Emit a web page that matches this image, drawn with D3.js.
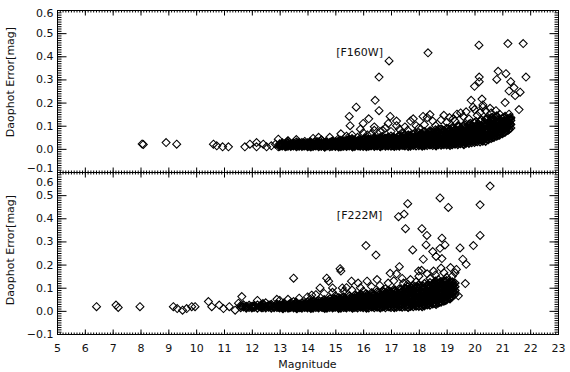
<!DOCTYPE html>
<html>
<head>
<meta charset="utf-8">
<script src="https://cdn.jsdelivr.net/npm/d3@7"></script>
<style>
  body { margin: 0; background: #fff; }
  svg { display: block; font-family: "DejaVu Sans", sans-serif; }
</style>
</head>
<body>
<svg id="chart" width="570" height="372"></svg>
<script>
// tick labels
var xTicks = [5, 6, 7, 8, 9, 10, 11, 12, 13, 14, 15, 16, 17, 18, 19, 20, 21, 22, 23];
var yTicks = [-0.1, 0.0, 0.1, 0.2, 0.3, 0.4, 0.5, 0.6];

// F160W: isolated stars [magnitude, error]
var f160Sparse = [
  [8.06, 0.021], [8.10, 0.019], [8.92, 0.027], [9.30, 0.020], [10.62, 0.020], [10.74, 0.013],
  [10.95, 0.009], [11.16, 0.009], [11.75, 0.009], [11.93, 0.020], [12.17, 0.027], [12.17, 0.009],
  [12.41, 0.020], [12.53, 0.009], [12.70, 0.013], [12.85, 0.020], [12.95, 0.009], [12.95, 0.042],
  [20.16, 0.448], [21.20, 0.455], [21.75, 0.455], [18.33, 0.415], [16.93, 0.380], [16.57, 0.310],
  [21.85, 0.310], [20.17, 0.310], [20.17, 0.290], [20.00, 0.270], [20.85, 0.335], [20.80, 0.300],
  [21.13, 0.325], [21.30, 0.290], [21.42, 0.265], [21.24, 0.250], [21.64, 0.245], [21.46, 0.230],
  [16.43, 0.210], [15.75, 0.180], [16.57, 0.165], [15.50, 0.140], [15.53, 0.100], [16.00, 0.110],
  [16.20, 0.130], [16.97, 0.140], [17.20, 0.120], [16.40, 0.095], [16.70, 0.080], [17.80, 0.130],
  [18.15, 0.140], [18.40, 0.148], [19.88, 0.210], [19.95, 0.180], [20.27, 0.215], [20.30, 0.180],
  [20.20, 0.157], [20.56, 0.175], [20.77, 0.165], [21.10, 0.200], [21.60, 0.170], [21.24, 0.150],
  [21.30, 0.130], [21.28, 0.108], [20.80, 0.143], [19.37, 0.150], [19.23, 0.130], [14.80, 0.050],
  [15.80, 0.050]
];
// F160W: halo just above the dense band
var f160Halo = [
  [13.3, 0.035], [13.6, 0.040], [13.9, 0.032], [14.2, 0.045], [14.5, 0.038], [15.1, 0.042],
  [15.4, 0.055], [15.6, 0.060], [16.0, 0.070], [16.3, 0.065], [16.6, 0.075], [16.8, 0.090],
  [17.0, 0.075], [17.3, 0.085], [17.5, 0.095], [17.6, 0.080], [17.9, 0.100], [18.0, 0.090],
  [18.2, 0.105], [18.5, 0.120], [18.6, 0.100], [18.8, 0.125], [19.0, 0.115], [19.1, 0.135],
  [19.3, 0.120], [19.6, 0.140], [19.8, 0.130], [19.7, 0.160], [20.1, 0.145], [20.4, 0.165],
  [20.6, 0.155], [20.9, 0.150], [15.9, 0.085], [16.9, 0.110], [17.2, 0.100], [17.7, 0.120],
  [18.3, 0.135], [18.9, 0.145], [19.5, 0.155], [16.4, 0.080], [15.2, 0.065], [14.4, 0.050],
  [13.7, 0.028], [20.0, 0.170], [20.3, 0.190], [19.4, 0.100], [18.7, 0.085], [17.4, 0.070],
  [16.15, 0.060], [15.45, 0.048]
];
// F160W: dense band, "mag err err ..." with errors in 0.001 mag
var f160Dense = [
  "13.0 11 16 21", "13.1 13 19 26", "13.2 10 15 22", "13.3 12 17 24 33", "13.4 11 14 20",
  "13.5 13 18 25", "13.6 10 16 21 29", "13.7 12 15 23", "13.8 11 17 20 27", "13.9 13 16 24",
  "14.0 10 14 19 26", "14.1 12 17 22 31", "14.2 11 15 21 25", "14.3 13 18 24", "14.4 10 16 20 28",
  "14.5 12 14 22 27 38", "14.6 11 17 19 25", "14.7 13 15 23 30", "14.8 10 18 21 27", "14.9 12 16 24 33",
  "15.0 11 14 20 26 31", "15.1 13 17 23 29", "15.2 10 15 21 28 36", "15.3 12 18 25 32", "15.4 11 16 22 27 35",
  "15.5 13 19 24 31", "15.6 12 15 20 28 34 44", "15.7 11 17 23 30 38", "15.8 14 18 26 33", "15.9 12 16 21 29 37",
  "16.0 11 19 24 31 40", "16.1 13 17 22 28 35 46", "16.2 12 15 25 33 42", "16.3 14 20 27 36", "16.4 11 18 23 30 39 48",
  "16.5 13 16 26 34 44", "16.6 12 21 28 37 47", "16.7 14 17 24 31 41 52", "16.8 12 19 27 35 45", "16.9 13 16 22 30 38 49",
  "17.0 12 20 26 33 43 55", "17.1 14 18 24 31 40 50", "17.2 13 21 28 36 46", "17.3 12 17 25 34 42 58", "17.4 15 22 29 38 48 53",
  "17.5 13 19 27 35 44 61", "17.6 14 23 31 40 50", "17.7 12 18 26 34 45 57", "17.8 15 21 29 37 47 63", "17.9 13 24 32 41 52",
  "18.0 14 20 27 36 46 58 70", "18.1 16 23 31 40 50 64", "18.2 14 19 28 37 45 55 74", "18.3 15 25 33 43 53 67", "18.4 17 22 30 39 48 60 78",
  "18.5 15 26 35 44 56 69", "18.6 16 21 29 38 50 62 82", "18.7 18 27 36 47 57 72", "18.8 16 23 32 41 53 66 85", "18.9 19 28 37 49 61 76",
  "19.0 17 24 33 43 55 68 88", "19.1 20 29 39 51 63 79", "19.2 18 26 35 46 58 72 92", "19.3 21 31 42 54 66 83", "19.4 19 27 37 49 61 75 96",
  "19.5 23 33 44 56 69 87", "19.6 22 30 40 52 65 79 100", "19.7 25 35 47 59 73 91", "19.8 24 32 43 55 68 83 106", "19.9 27 38 50 63 77 96",
  "20.0 28 36 47 60 73 89 112", "20.1 31 42 54 67 82 101", "20.2 30 39 51 64 78 94 120", "20.3 34 45 58 72 87 107", "20.4 33 44 56 69 84 100 128",
  "20.5 40 52 65 79 95 114", "20.6 45 57 70 85 101 122 135", "20.7 50 62 76 92 108 127", "20.8 55 68 83 99 116 138", "20.9 60 74 90 106 124",
  "21.0 66 80 97 113 131", "21.1 72 88 104 120 140", "21.2 80 95 111 128", "21.3 90 105 122 136",
  // second pass of the band, stars between the columns above
  "13.05 14 20", "13.25 12 18 28", "13.45 15 21", "13.65 13 19 25", "13.85 14 22", "14.05 12 18 23",
  "14.25 15 20 29", "14.45 13 19 24", "14.65 14 21 28", "14.85 12 19 25 30", "15.05 15 22 28",
  "15.25 13 19 25 33", "15.45 14 20 29 38", "15.65 16 23 31", "15.85 13 21 27 35", "16.05 15 22 30 43",
  "16.25 14 20 29 38", "16.45 16 24 32 41", "16.65 15 22 30 40 50", "16.85 17 25 33 43", "17.05 15 23 31 39 49",
  "17.25 17 24 32 42 52", "17.45 16 25 34 43 56", "17.65 17 26 35 45 55", "17.85 18 26 34 44 54 66",
  "18.05 18 25 34 43 53 64", "18.25 19 27 36 46 57 70", "18.45 20 28 38 49 60 73", "18.65 21 31 41 52 65 78",
  "18.85 22 32 43 55 69 82", "19.05 23 34 46 58 72 86", "19.25 24 36 48 61 76 90", "19.45 26 38 50 64 80 98",
  "19.65 29 41 54 68 84 104", "19.85 32 45 59 73 90 110", "20.05 34 48 62 77 95 118", "20.25 38 52 66 82 100 125",
  "20.45 42 57 72 88 106 130", "20.65 50 64 80 96 114 136", "20.85 60 75 91 108 126", "21.05 70 86 102 118 135",
  "21.25 85 100 116 132",
  // third pass, the darkest part of the band
  "14.12 9 24", "14.37 17 30", "14.62 8 23", "14.87 16 28", "15.12 9 25 34", "15.37 18 30",
  "15.62 9 25 39", "15.87 19 31 42", "16.12 10 27 38", "16.37 20 33 45", "16.62 10 26 43", "16.87 21 36 47",
  "17.12 11 28 45", "17.37 22 38 50", "17.62 11 30 47 60", "17.87 23 40 50", "18.12 12 32 48 60",
  "18.37 24 41 56 72", "18.62 13 34 51 68", "18.87 26 45 60 78", "19.12 15 38 55 70 84", "19.37 30 48 65 80",
  "19.62 18 44 60 74 92", "19.87 36 52 70 86 100", "20.12 40 58 75 92 108", "20.37 46 64 80 96 115",
  "20.62 55 72 90 108 125", "20.87 68 84 100 118", "21.12 78 94 112 128"
];

// F222M: isolated stars
var f222Sparse = [
  [6.42, 0.018], [7.12, 0.025], [7.20, 0.015], [7.98, 0.018], [9.18, 0.018], [9.32, 0.010],
  [9.51, 0.003], [9.66, 0.010], [9.84, 0.018], [9.96, 0.018], [10.44, 0.040], [10.56, 0.018],
  [10.83, 0.025], [10.98, 0.010], [11.19, 0.018], [11.40, 0.003], [11.64, 0.062], [11.52, 0.033],
  [20.56, 0.539], [18.76, 0.488], [20.20, 0.458], [19.06, 0.447], [17.60, 0.463], [17.47, 0.418],
  [17.27, 0.407], [17.52, 0.355], [18.11, 0.355], [18.29, 0.326], [18.83, 0.314], [20.20, 0.326],
  [19.96, 0.282], [19.48, 0.272], [16.10, 0.282], [16.46, 0.241], [17.78, 0.263], [18.26, 0.285],
  [18.94, 0.285], [18.76, 0.270], [18.50, 0.256], [18.62, 0.235], [18.83, 0.226], [18.16, 0.223],
  [19.58, 0.223], [19.70, 0.201], [17.30, 0.191], [15.17, 0.182], [15.20, 0.172], [13.50, 0.141],
  [14.69, 0.141], [14.76, 0.128], [14.45, 0.099], [14.15, 0.068], [14.90, 0.099], [15.25, 0.099],
  [15.58, 0.128], [16.14, 0.128], [15.82, 0.120], [16.97, 0.162], [17.45, 0.120], [17.99, 0.172],
  [18.53, 0.172], [19.14, 0.187], [19.35, 0.179], [19.67, 0.118], [19.42, 0.065]
];
var f222Halo = [
  [13.0, 0.045], [13.3, 0.050], [13.7, 0.055], [14.0, 0.060], [14.3, 0.070], [14.6, 0.075],
  [14.9, 0.080], [15.3, 0.085], [15.6, 0.090], [15.9, 0.100], [16.3, 0.105], [16.6, 0.110],
  [16.9, 0.120], [17.1, 0.130], [17.4, 0.140], [17.7, 0.135], [18.0, 0.150], [18.3, 0.160],
  [18.6, 0.155], [18.9, 0.165], [19.2, 0.150], [16.0, 0.085], [16.8, 0.095], [17.6, 0.115],
  [18.4, 0.140], [19.0, 0.145], [15.0, 0.065], [14.1, 0.050], [13.5, 0.040], [12.5, 0.035],
  [12.2, 0.045], [12.9, 0.050], [17.2, 0.160], [18.1, 0.175], [18.8, 0.185], [19.3, 0.165],
  [16.5, 0.135], [15.4, 0.100], [17.9, 0.125], [18.7, 0.135]
];
var f222Dense = [
  "11.6 14 22", "11.7 17 26", "11.8 12 19", "11.9 15 24", "12.0 18 13", "12.1 21 16", "12.2 12 25",
  "12.3 17 20", "12.4 14 23 31", "12.5 19 13", "12.6 16 24", "12.7 12 21 28", "12.8 18 14", "12.9 22 15 30",
  "13.0 13 19 26", "13.1 16 23 12", "13.2 20 14 29", "13.3 12 17 25", "13.4 15 21 33", "13.5 13 18 27",
  "13.6 16 24 12 36", "13.7 14 20 29", "13.8 12 18 25 34", "13.9 15 22 30", "14.0 13 19 27 38",
  "14.1 16 23 32 14", "14.2 12 20 28 41", "14.3 15 24 35", "14.4 13 18 26 33 45", "14.5 16 22 30 40",
  "14.6 14 20 29 37 48", "14.7 12 17 25 34 43", "14.8 15 23 31 40 52", "14.9 13 19 28 36 46", "15.0 16 22 30 39 50",
  "15.1 14 21 27 35 44 57", "15.2 12 18 26 34 42 53", "15.3 15 24 31 40 49 60", "15.4 13 20 28 37 47", "15.5 16 23 32 41 52 64",
  "15.6 14 19 27 36 45 56", "15.7 15 25 34 43 54 68", "15.8 13 21 29 39 49 60", "15.9 16 24 33 44 55 71", "16.0 14 20 30 40 51 63",
  "16.1 15 26 35 46 58 74", "16.2 13 22 31 42 53 66", "16.3 17 27 37 48 60 78", "16.4 14 23 33 44 56 70", "16.5 16 28 38 50 63 82",
  "16.6 15 24 34 45 57 72", "16.7 17 29 40 52 65 85", "16.8 14 25 36 47 60 76", "16.9 18 30 41 54 68 88", "17.0 15 26 37 49 62 79",
  "17.1 17 31 43 56 70 92", "17.2 16 27 39 51 64 82", "17.3 18 32 45 58 73 95", "17.4 16 28 40 53 67 86", "17.5 19 34 47 61 76 98",
  "17.6 17 29 42 55 70 89 104", "17.7 20 35 49 63 79 101", "17.8 18 31 44 58 73 92 110", "17.9 21 37 51 66 82 104", "18.0 20 33 46 60 76 95 113",
  "18.1 23 38 53 68 85 106", "18.2 22 35 49 63 79 98 118", "18.3 26 41 56 71 88 110", "18.4 25 39 53 67 83 101 122", "18.5 30 45 60 75 92 113",
  "18.6 32 46 62 78 95 116 128", "18.7 35 50 66 82 99 120", "18.8 38 53 69 86 104 126", "18.9 42 58 74 90 108 128", "19.0 48 63 79 95 112 130",
  "19.1 55 70 86 102 118", "19.2 62 78 94 110 125", "19.3 72 88 104 120",
  // second pass of the band
  "12.05 16 21", "12.35 14 22", "12.65 19 25", "12.95 16 23", "13.15 17 24 33", "13.35 14 20 29",
  "13.55 17 23 31", "13.75 15 21 28", "13.95 17 24 33", "14.15 14 21 29 37", "14.35 17 25 33 42",
  "14.55 15 22 31 39", "14.75 18 26 35 45", "14.95 16 24 33 42 52", "15.15 18 26 35 45 55",
  "15.35 16 25 34 44 54", "15.55 18 27 37 47 58", "15.75 17 26 36 46 57 65", "15.95 18 28 38 48 60 68",
  "16.15 17 28 38 49 61 70", "16.35 19 30 41 52 64 75", "16.55 18 30 42 54 67 78", "16.75 20 32 44 57 70 82",
  "16.95 19 32 45 58 72 85", "17.15 21 34 47 61 75 89", "17.35 20 34 48 62 77 92", "17.55 22 36 50 65 80 95",
  "17.75 23 38 52 67 83 99", "17.95 25 40 55 70 86 103", "18.15 27 42 57 73 90 108", "18.35 30 45 60 76 93 112",
  "18.55 34 49 64 80 97 117", "18.75 38 54 70 86 103 122", "18.95 46 61 77 93 110 127", "19.15 58 74 90 106 122",
  "19.25 68 84 100 116",
  // third pass, the darkest part of the band
  "13.12 10 21", "13.37 19 28", "13.62 10 22", "13.87 20 30", "14.12 11 25 36", "14.37 21 31",
  "14.62 11 26 40", "14.87 21 34 44", "15.12 11 29 40", "15.37 22 36 50", "15.62 12 30 44",
  "15.87 23 38 52 62", "16.12 12 32 46 58", "16.37 24 40 55 68", "16.62 13 34 50 64", "16.87 25 42 58 74",
  "17.12 14 36 53 68 84", "17.37 26 44 60 78", "17.62 15 38 56 74 92", "17.87 28 47 64 80 98",
  "18.12 18 41 60 78 96", "18.37 32 50 68 86 104", "18.62 28 46 64 82 100 118", "18.87 44 60 78 96 114",
  "19.12 52 68 84 100 116"
];

function parseDense(rows) {
  var pts = [];
  rows.forEach(function(r) {
    var parts = r.split(" ").map(Number);
    var mag = parts[0];
    parts.slice(1).forEach(function(e) { pts.push([mag, e / 1000]); });
  });
  return pts;
}

var svg = d3.select("#chart");

var left = 57, right = 558;
var xScale = d3.scaleLinear().domain([5, 23]).range([left, right]);

var panels = [
  { name: "[F160W]", top: 10, bottom: 172, sparse: f160Sparse.concat(f160Halo), dense: parseDense(f160Dense), labelPos: [15.87, 0.401], xLabels: false, titleY: 82 },
  { name: "[F222M]", top: 172, bottom: 334, sparse: f222Sparse.concat(f222Halo), dense: parseDense(f222Dense), labelPos: [15.87, 0.397], xLabels: true, titleY: 250 }
];

var diamond = "M0,-4L4,0L0,4L-4,0Z";
var yMinor = d3.range(-100, 601, 10).map(function(v) { return v / 1000; });
var xMinor = d3.range(50, 231, 1).map(function(v) { return v / 10; });

panels.forEach(function(p, i) {
  var yScale = d3.scaleLinear().domain([-0.1, 0.6]).range([p.bottom, p.top]);
  var g = svg.append("g");

  // points: dense band drawn a bit heavier so overlaps fill in like the original
  [[p.dense, 1.3], [p.sparse, 1.05]].forEach(function(set) {
    g.append("g")
      .selectAll("path")
      .data(set[0])
      .enter()
      .append("path")
      .attr("d", diamond)
      .attr("transform", function(d) { return "translate(" + xScale(d[0]) + "," + yScale(d[1]) + ")"; })
      .attr("fill", "none")
      .attr("stroke", "#000")
      .attr("stroke-width", set[1]);
  });

  // left axis, major ticks + labels
  var leftAx = g.append("g")
    .attr("transform", "translate(" + (left + 0.5) + ",0)")
    .call(d3.axisLeft(yScale).tickValues(yTicks).tickSize(-9).tickSizeOuter(0).tickPadding(4).tickFormat(d3.format(".1f")));
  leftAx.selectAll("text")
    .attr("font-size", "11px")
    .attr("font-family", "DejaVu Sans, sans-serif")
    .attr("fill", "#111")
    .attr("dy", function(d) {
      if (d === 0.6) return i === 0 ? "0.6em" : "1.2em";
      if (d === -0.1 && i === 0) return "-0.05em";
      return "0.32em";
    });
  g.append("g")
    .attr("transform", "translate(" + (left + 0.5) + ",0)")
    .call(d3.axisLeft(yScale).tickValues(yMinor).tickSize(-4).tickSizeOuter(0).tickFormat(""));

  // right axis
  g.append("g")
    .attr("transform", "translate(" + (right + 0.5) + ",0)")
    .call(d3.axisRight(yScale).tickValues(yTicks).tickSize(-9).tickSizeOuter(0).tickFormat(""));
  g.append("g")
    .attr("transform", "translate(" + (right + 0.5) + ",0)")
    .call(d3.axisRight(yScale).tickValues(yMinor).tickSize(-4).tickSizeOuter(0).tickFormat(""));

  // top and bottom axes
  g.append("g")
    .attr("transform", "translate(0," + (p.top + 0.5) + ")")
    .call(d3.axisTop(xScale).tickValues(xTicks).tickSize(-5).tickSizeOuter(0).tickFormat(""));
  g.append("g")
    .attr("transform", "translate(0," + (p.top + 0.5) + ")")
    .call(d3.axisTop(xScale).tickValues(xMinor).tickSize(-2).tickSizeOuter(0).tickFormat(""));
  var botAx = g.append("g")
    .attr("transform", "translate(0," + (p.bottom + 0.5) + ")")
    .call(d3.axisBottom(xScale).tickValues(xTicks).tickSize(-5).tickSizeOuter(0).tickPadding(10)
      .tickFormat(p.xLabels ? d3.format("d") : ""));
  botAx.selectAll("text")
    .attr("font-size", "11px")
    .attr("font-family", "DejaVu Sans, sans-serif")
    .attr("fill", "#111");
  g.append("g")
    .attr("transform", "translate(0," + (p.bottom + 0.5) + ")")
    .call(d3.axisBottom(xScale).tickValues(xMinor).tickSize(-2).tickSizeOuter(0).tickFormat(""));

  g.selectAll(".domain").remove();
  g.selectAll(".tick line").attr("stroke", "#000");

  // frame
  g.append("rect")
    .attr("x", left + 0.5)
    .attr("y", p.top + 0.5)
    .attr("width", right - left)
    .attr("height", p.bottom - p.top)
    .attr("fill", "none")
    .attr("stroke", "#000");

  // filter label
  g.append("text")
    .attr("x", xScale(p.labelPos[0]))
    .attr("y", yScale(p.labelPos[1]))
    .attr("font-size", "11px")
    .attr("fill", "#111")
    .attr("text-anchor", "middle")
    .text(p.name);

  // y title
  g.append("text")
    .attr("transform", "translate(14," + p.titleY + ")rotate(-90)")
    .attr("text-anchor", "middle")
    .attr("font-size", "11px")
    .attr("fill", "#111")
    .text("Daophot Error[mag]");
});

svg.append("text")
  .attr("x", (left + right) / 2)
  .attr("y", 368)
  .attr("text-anchor", "middle")
  .attr("font-size", "11px")
  .attr("fill", "#111")
  .text("Magnitude");
</script>
</body>
</html>
